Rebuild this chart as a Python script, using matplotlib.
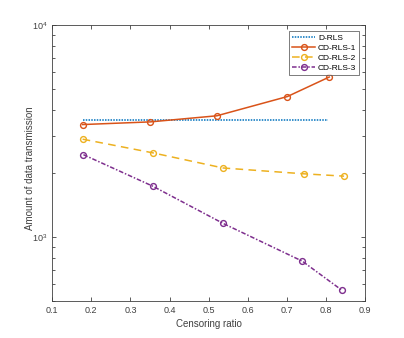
import numpy as np
import matplotlib.pyplot as plt
from matplotlib.ticker import LogLocator, NullFormatter, LogFormatterMathtext

plt.rcParams['font.family'] = ['Liberation Sans', 'DejaVu Sans']
plt.rcParams['mathtext.fontset'] = 'custom'
plt.rcParams['mathtext.rm'] = 'Liberation Sans'

# data
x_drls = [0.178, 0.806]
y_drls = [3590, 3590]

x_cd1 = [0.178, 0.351, 0.521, 0.701, 0.808]
y_cd1 = [3400, 3500, 3740, 4610, 5700]

x_cd2 = [0.178, 0.357, 0.537, 0.743, 0.846]
y_cd2 = [2900, 2500, 2120, 1990, 1940]

x_cd3 = [0.180, 0.357, 0.537, 0.739, 0.841]
y_cd3 = [2450, 1740, 1160, 770, 560]

labels = ['D-RLS', 'CD-RLS-1', 'CD-RLS-2', 'CD-RLS-3']
colors = ['#0072BD', '#D95319', '#EDB120', '#7E2F8E']
axcol = '#404040'

fig = plt.figure(figsize=(4.04, 3.38), dpi=100)
ax = fig.add_axes([0.129, 0.110, 0.775, 0.815])

mk = dict(ms=4.2, mfc='none', mew=1.0)
ax.plot(x_drls, y_drls, color=colors[0], lw=1.1, ls=(0, (1, 0.8)), label=labels[0])
ax.plot(x_cd1, y_cd1, '-o', color=colors[1], lw=1.1, label=labels[1], **mk)
ax.plot(x_cd2, y_cd2, 'o', color=colors[2], lw=1.1, ls=(0, (5, 3.5)), label=labels[2], **mk)
ax.plot(x_cd3, y_cd3, 'o', color=colors[3], lw=1.1, ls=(0, (3, 1.2, 1, 1.2)), label=labels[3], **mk)

ax.set_yscale('log')
ax.set_xlim(0.1, 0.9)
ax.set_ylim(500, 1e4)
ax.set_xticks(np.arange(0.1, 0.91, 0.1))
ax.set_xticklabels(['%.1f' % v for v in np.arange(0.1, 0.91, 0.1)])
ax.yaxis.set_major_locator(LogLocator(base=10))
ax.yaxis.set_major_formatter(LogFormatterMathtext())
ax.yaxis.set_minor_locator(LogLocator(base=10, subs=np.arange(2, 10)))
ax.yaxis.set_minor_formatter(NullFormatter())

ax.tick_params(which='both', direction='in', top=True, right=True, colors=axcol,
               labelsize=6.5, width=0.6)
ax.tick_params(which='major', length=3)
ax.tick_params(which='minor', length=2)
for s in ax.spines.values():
    s.set_color(axcol)
    s.set_linewidth(0.6)

ax.set_xlabel('Censoring ratio', fontsize=7, color=axcol, labelpad=3)
ax.set_ylabel('Amount of data transmission', fontsize=7, color=axcol)
ax.yaxis.set_label_coords(-0.055, 0.48)

leg = ax.legend(loc='upper right', fontsize=6, frameon=True, fancybox=False,
                edgecolor=axcol, borderpad=0.35, labelspacing=0.25,
                handlelength=2.7, handletextpad=0.4, borderaxespad=0.7)
leg.get_frame().set_linewidth(0.6)

fig.savefig('out.png', dpi=100)
